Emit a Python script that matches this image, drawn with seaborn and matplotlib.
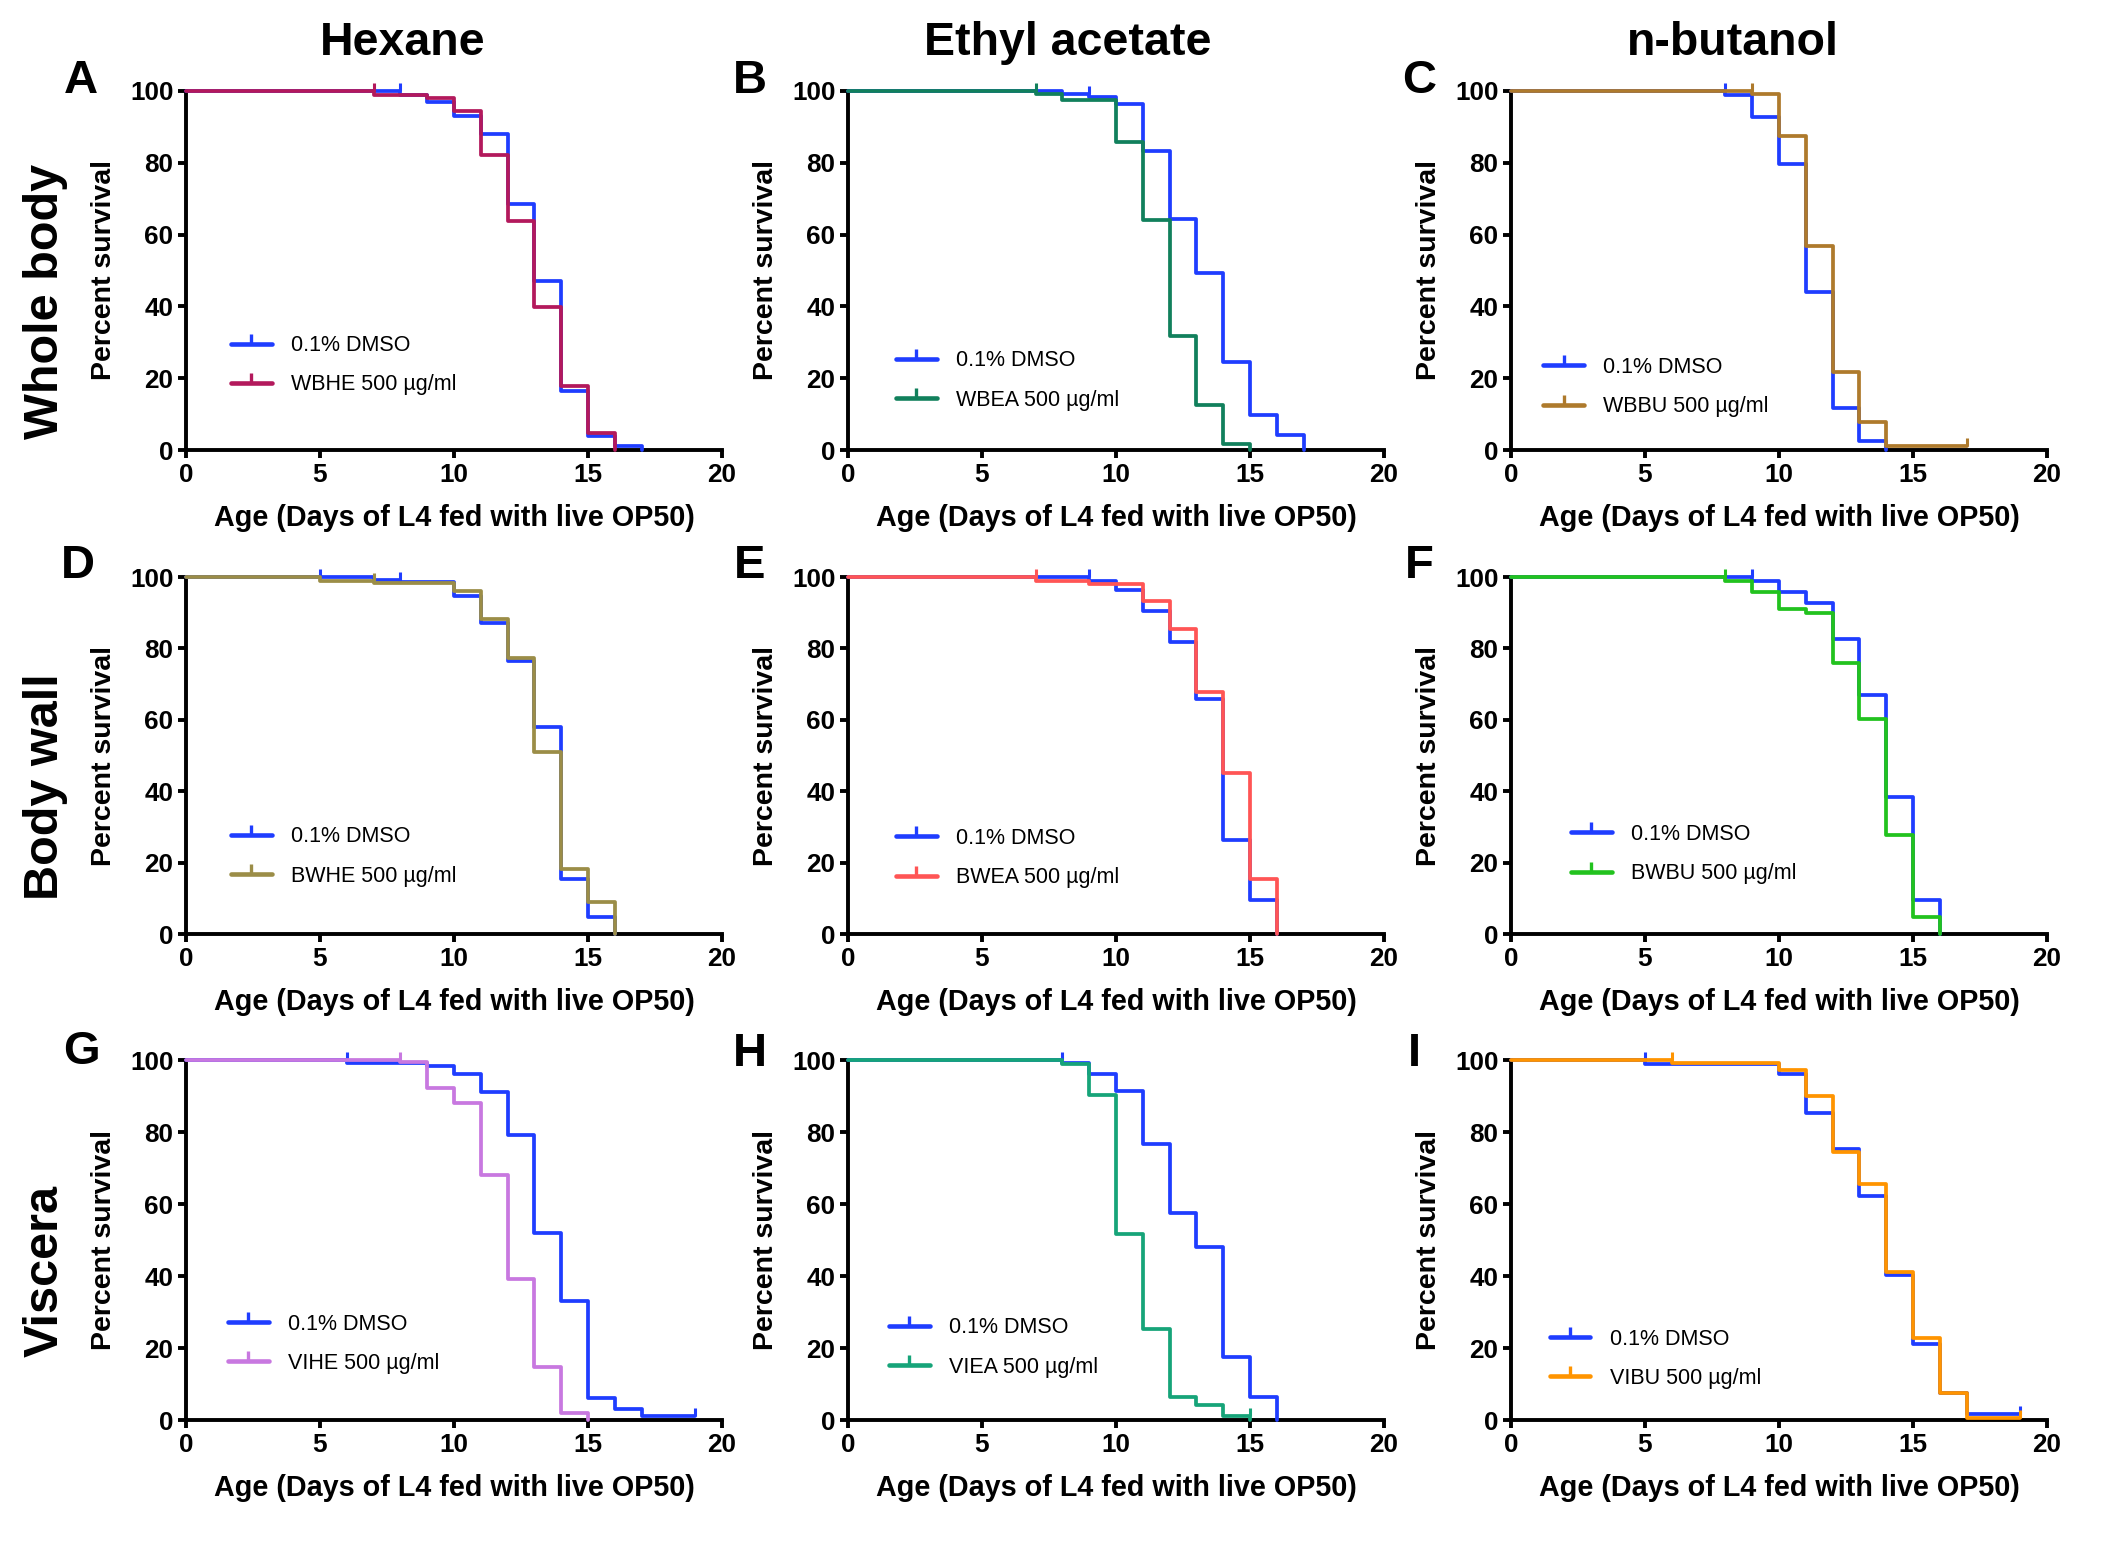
import matplotlib
matplotlib.use("Agg")
import matplotlib.pyplot as plt
from matplotlib.lines import Line2D
import seaborn as sns

# ---------------- data (day of drop, percent survival after drop) ----------------
A_ctrl_days = [0, 8, 9, 10, 11, 12, 13, 14, 15, 16, 17]
A_ctrl_surv = [100, 99, 97, 93, 88, 68.5, 47, 16.5, 4, 1.2, 0]
A_trt_days = [0, 7, 9, 10, 11, 12, 13, 14, 15, 16]
A_trt_surv = [100, 99, 98, 94.5, 82.3, 63.8, 39.9, 17.8, 4.8, 0]

B_ctrl_days = [0, 8, 9, 10, 11, 12, 13, 14, 15, 16, 17]
B_ctrl_surv = [100, 99.3, 98.3, 96.3, 83.3, 64.3, 49.2, 24.5, 9.7, 4.1, 0]
B_trt_days = [0, 7, 8, 10, 11, 12, 13, 14, 15]
B_trt_surv = [100, 99.2, 97.5, 85.7, 64.2, 31.7, 12.6, 1.6, 0]

C_ctrl_days = [0, 8, 9, 10, 11, 12, 13, 14]
C_ctrl_surv = [100, 98.8, 92.8, 79.8, 44, 11.8, 2.4, 0]
C_trt_days = [0, 9, 10, 11, 12, 13, 14, 17]
C_trt_surv = [100, 99.2, 87.5, 56.7, 21.6, 7.9, 1, 1]

D_ctrl_days = [0, 7, 8, 10, 11, 12, 13, 14, 15, 16]
D_ctrl_surv = [100, 99.2, 98.6, 94.6, 87, 76.5, 58, 15.4, 4.8, 0]
D_trt_days = [0, 5, 7, 10, 11, 12, 13, 14, 15, 16]
D_trt_surv = [100, 99, 98.2, 96, 88.3, 77.4, 51, 18.3, 9, 0]

E_ctrl_days = [0, 9, 10, 11, 12, 13, 14, 15, 16]
E_ctrl_surv = [100, 99, 96.3, 90.5, 81.9, 65.8, 26.3, 9.4, 0]
E_trt_days = [0, 7, 9, 11, 12, 13, 14, 15, 16]
E_trt_surv = [100, 99, 98, 93.2, 85.5, 67.8, 45, 15.3, 0]

F_ctrl_days = [0, 9, 10, 11, 12, 13, 14, 15, 16]
F_ctrl_surv = [100, 98.9, 95.8, 92.6, 82.5, 67, 38.3, 9.4, 0]
F_trt_days = [0, 8, 9, 10, 11, 12, 13, 14, 15, 16]
F_trt_surv = [100, 98.9, 95.8, 91, 90, 76, 60.3, 27.6, 4.9, 0]

G_ctrl_days = [0, 6, 9, 10, 11, 12, 13, 14, 15, 16, 17, 19]
G_ctrl_surv = [100, 99.2, 98.3, 96.1, 91, 79.1, 52, 33, 6, 3, 1.1, 1.1]
G_trt_days = [0, 8, 9, 10, 11, 12, 13, 14, 15]
G_trt_surv = [100, 99.5, 92.3, 88, 68, 39.3, 14.8, 1.9, 0]

H_ctrl_days = [0, 8, 9, 10, 11, 12, 13, 14, 15, 16]
H_ctrl_surv = [100, 99.1, 96.2, 91.5, 76.8, 57.5, 48.1, 17.6, 6.5, 0]
H_trt_days = [0, 8, 9, 10, 11, 12, 13, 14, 15]
H_trt_surv = [100, 98.9, 90.2, 51.6, 25.2, 6.5, 4.3, 1.1, 0]

I_ctrl_days = [0, 5, 10, 11, 12, 13, 14, 15, 16, 17, 19]
I_ctrl_surv = [100, 99, 96.2, 85.2, 75.4, 62.1, 40.2, 21, 7.6, 1.8, 1.8]
I_trt_days = [0, 6, 10, 11, 12, 13, 14, 15, 16, 17, 19]
I_trt_surv = [100, 99.3, 97.3, 90.1, 74.4, 65.6, 41, 22.8, 7.4, 0.6, 0.6]

# censored observations (day, percent)
A_ctrl_cens = [(8, 100)]
A_trt_cens = [(7, 100)]
B_ctrl_cens = [(9, 99.3)]
B_trt_cens = [(7, 100)]
C_ctrl_cens = [(8, 100)]
C_trt_cens = [(9, 100), (17, 1)]
D_ctrl_cens = [(5, 100), (8, 99.2)]
D_trt_cens = [(7, 99)]
E_ctrl_cens = [(9, 100)]
E_trt_cens = [(7, 100)]
F_ctrl_cens = [(9, 100)]
F_trt_cens = [(8, 100)]
G_ctrl_cens = [(6, 100), (19, 1.1)]
G_trt_cens = [(8, 100)]
H_ctrl_cens = [(8, 100)]
H_trt_cens = [(15, 1.1)]
I_ctrl_cens = [(5, 100), (19, 1.8)]
I_trt_cens = [(6, 100), (19, 0.6)]

panel_letters = ["A", "B", "C", "D", "E", "F", "G", "H", "I"]
ctrl_label = "0.1% DMSO"
trt_labels = ["WBHE 500 \u00b5g/ml", "WBEA 500 \u00b5g/ml", "WBBU 500 \u00b5g/ml",
              "BWHE 500 \u00b5g/ml", "BWEA 500 \u00b5g/ml", "BWBU 500 \u00b5g/ml",
              "VIHE 500 \u00b5g/ml", "VIEA 500 \u00b5g/ml", "VIBU 500 \u00b5g/ml"]
col_titles = ["Hexane", "Ethyl acetate", "n-butanol"]
row_titles = ["Whole body", "Body wall", "Viscera"]
x_ticks = [0, 5, 10, 15, 20]
y_ticks = [0, 20, 40, 60, 80, 100]
xlabel = "Age (Days of L4 fed with live OP50)"
ylabel = "Percent survival"

ctrl_color = "#1F3DFF"
trt_colors = ["#B3195C", "#11805C", "#AE7A2C", "#9B8D47", "#FF5555",
              "#22C21E", "#C878E0", "#16A479", "#FF9400"]

# ---------------- style ----------------
sns.set_style("ticks")
plt.rcParams["font.family"] = ["Liberation Sans", "DejaVu Sans"]
for k in ["text.color", "axes.labelcolor", "xtick.color", "ytick.color", "axes.edgecolor"]:
    plt.rcParams[k] = "black"
FAM = ["Liberation Sans", "DejaVu Sans"]

W, H = 2126, 1549
fig = plt.figure(figsize=(W / 100, H / 100), dpi=100)

col_left = [186, 848, 1511]
row_top = [91, 577, 1060]
row_bot = [450, 934, 1420]
ax_w = 536

legend_pos = [(0.084, 0.236), (0.089, 0.194), (0.060, 0.175),
              (0.084, 0.217), (0.089, 0.213), (0.112, 0.224),
              (0.078, 0.212), (0.076, 0.201), (0.072, 0.170)]

data = [
    (A_ctrl_days, A_ctrl_surv, A_trt_days, A_trt_surv, A_ctrl_cens, A_trt_cens),
    (B_ctrl_days, B_ctrl_surv, B_trt_days, B_trt_surv, B_ctrl_cens, B_trt_cens),
    (C_ctrl_days, C_ctrl_surv, C_trt_days, C_trt_surv, C_ctrl_cens, C_trt_cens),
    (D_ctrl_days, D_ctrl_surv, D_trt_days, D_trt_surv, D_ctrl_cens, D_trt_cens),
    (E_ctrl_days, E_ctrl_surv, E_trt_days, E_trt_surv, E_ctrl_cens, E_trt_cens),
    (F_ctrl_days, F_ctrl_surv, F_trt_days, F_trt_surv, F_ctrl_cens, F_trt_cens),
    (G_ctrl_days, G_ctrl_surv, G_trt_days, G_trt_surv, G_ctrl_cens, G_trt_cens),
    (H_ctrl_days, H_ctrl_surv, H_trt_days, H_trt_surv, H_ctrl_cens, H_trt_cens),
    (I_ctrl_days, I_ctrl_surv, I_trt_days, I_trt_surv, I_ctrl_cens, I_trt_cens),
]

LW = 2.7
for i in range(9):
    r, c = divmod(i, 3)
    left = col_left[c] / W
    bottom = 1 - row_bot[r] / H
    height = (row_bot[r] - row_top[r]) / H
    ax = fig.add_axes([left, bottom, ax_w / W, height])
    cd, cs, td, ts, cc, tc = data[i]
    col = trt_colors[i]
    sns.lineplot(x=cd, y=cs, ax=ax, color=ctrl_color, lw=LW, drawstyle="steps-post",
                 estimator=None, sort=False, clip_on=False, zorder=3)
    sns.lineplot(x=td, y=ts, ax=ax, color=col, lw=LW, drawstyle="steps-post",
                 estimator=None, sort=False, clip_on=False, zorder=4)
    for (cx, cy) in cc:
        ax.plot([cx], [cy], marker=2, ms=6, mew=2.2, color=ctrl_color, clip_on=False, zorder=3)
    for (cx, cy) in tc:
        ax.plot([cx], [cy], marker=2, ms=6, mew=2.2, color=col, clip_on=False, zorder=4)

    ax.set_xlim(0, 20)
    ax.set_ylim(0, 100)
    ax.set_xticks(x_ticks)
    ax.set_yticks(y_ticks)
    sns.despine(ax=ax)
    for s in ["left", "bottom"]:
        ax.spines[s].set_linewidth(2.8)
        ax.spines[s].set_color("black")
    ax.tick_params(axis="both", direction="out", length=6, width=2.8, color="black",
                   labelcolor="black", pad=3)
    for lab in ax.get_xticklabels() + ax.get_yticklabels():
        lab.set_fontfamily(FAM)
        lab.set_fontweight("bold")
        lab.set_fontsize(18.8)
    ax.set_xlabel(xlabel, fontfamily=FAM, fontweight="bold", fontsize=20.7)
    ax.xaxis.set_label_coords(0.5, -68 / (row_bot[r] - row_top[r]))
    ax.xaxis.label.set_verticalalignment("center")
    ax.set_ylabel(ylabel, fontfamily=FAM, fontweight="bold", fontsize=20.5)
    ax.yaxis.set_label_coords(-82 / ax_w, 0.5)
    ax.yaxis.label.set_verticalalignment("center")

    handles = [
        Line2D([], [], color=ctrl_color, lw=LW + 0.6, marker=2, ms=7, mew=2.4),
        Line2D([], [], color=col, lw=LW + 0.6, marker=2, ms=7, mew=2.4),
    ]
    lx, ly = legend_pos[i]
    ax.legend(handles, [ctrl_label, trt_labels[i]], loc="center left",
              bbox_to_anchor=(lx, ly), frameon=False, borderpad=0, borderaxespad=0,
              handlelength=1.9, handletextpad=0.9, labelspacing=0.85,
              prop={"family": FAM, "size": 15.5})

# panel letters
letter_pos = [(81, 81), (750, 81), (1419, 81), (78, 566), (750, 566), (1419, 566),
              (81, 1052), (750, 1054), (1414, 1054)]
for L, (px, py) in zip(panel_letters, letter_pos):
    fig.text(px / W, 1 - py / H, L, ha="center", va="center", fontsize=34,
             fontweight="bold", family=FAM)

# column titles
for t, px in zip(col_titles, [403, 1068, 1733]):
    fig.text(px / W, 1 - 43 / H, t, ha="center", va="center", fontsize=33.5,
             fontweight="bold", family=FAM)

# row titles
for t, py in zip(row_titles, [301, 787, 1271]):
    fig.text(45 / W, 1 - py / H, t, ha="center", va="center", fontsize=35,
             fontweight="bold", family=FAM, rotation=90)

fig.savefig("out.png", dpi=100, facecolor="white")
